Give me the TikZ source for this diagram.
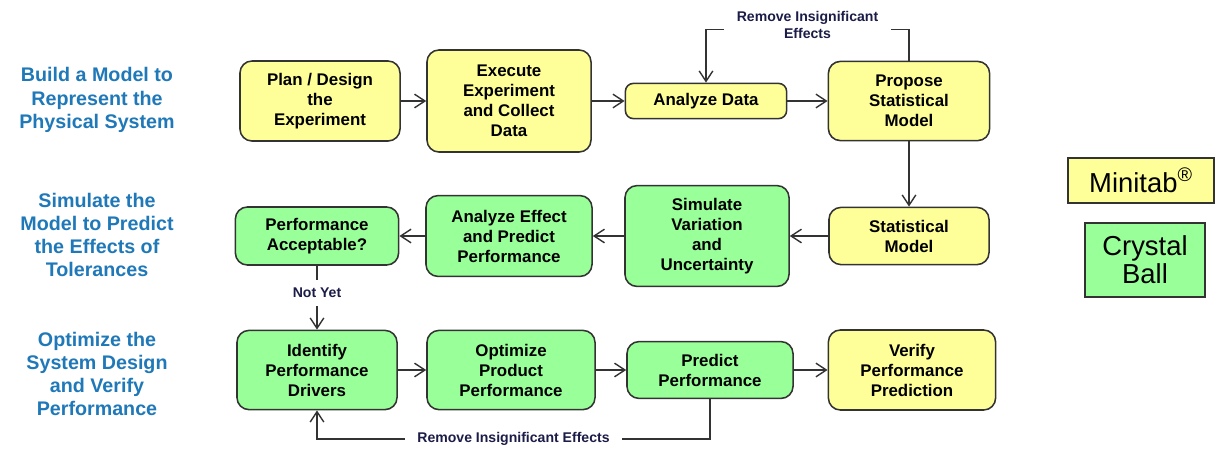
\documentclass[tikz,border=0pt]{standalone}
\usepackage{fontspec}
\setmainfont{Liberation Sans}
\usetikzlibrary{positioning,arrows.meta}
\definecolor{boxyellow}{HTML}{FFFF99}
\definecolor{boxgreen}{HTML}{99FF99}
\definecolor{phaseblue}{HTML}{1F78B8}
\definecolor{notenavy}{HTML}{1C1C48}
\definecolor{linegray}{HTML}{333333}

\begin{document}
\begin{tikzpicture}[
x=0.025cm,y=-0.025cm,
box/.style={
  draw=linegray,
  line width=1.1pt,
  rounded corners=3mm,
  align=center,
  inner sep=0pt,
  font=\fontsize{12}{14.2}\selectfont\bfseries
  },
ybox/.style={box, fill=boxyellow},
gbox/.style={box, fill=boxgreen},
phase/.style={
  align=center,
  text=phaseblue,
  font=\fontsize{14}{16.5}\selectfont\bfseries
  },
note/.style={
  align=center,
  fill=white,
  inner xsep=3.2mm,
  inner ysep=1mm,
  text=notenavy,
  font=\fontsize{10}{12}\selectfont\bfseries
  },
tool/.style={
  draw=linegray,
  line width=1.1pt,
  align=center,
  inner sep=0pt,
  font=\fontsize{19.5}{20}\selectfont
  },
flow/.style={draw=linegray, line width=1pt},
>={Straight Barb[length=2.6mm,width=3.4mm]}
]
\useasboundingbox (0,0) rectangle (1215,448);

\node[phase] (build) at (97,100) {Build a Model to\\Represent the\\Physical System};
\node[phase] (simulate) at (97,235) {Simulate the\\Model to Predict\\the Effects of\\Tolerances};
\node[phase] (optimize) at (97,374) {Optimize the\\System Design\\and Verify\\Performance};

\node[ybox, minimum width=4cm, minimum height=2cm] (plan) at (320,101) {Plan / Design\\the\\Experiment};
\node[ybox, minimum width=4.1cm, minimum height=2.55cm] (execute) at (509,101) {Execute\\Experiment\\and Collect\\Data};
\node[ybox, minimum width=4.03cm, minimum height=0.88cm, rounded corners=2mm] (anadata) at (706,101) {Analyze Data};
\node[ybox, minimum width=4.03cm, minimum height=1.98cm] (propose) at (909,101) {Propose\\Statistical\\Model};

\node[ybox, minimum width=4cm, minimum height=1.43cm] (statmod) at (909,236) {Statistical\\Model};
\node[gbox, minimum width=4.1cm, minimum height=2.52cm] (simvar) at (707,236) {Simulate\\Variation\\and\\Uncertainty};
\node[gbox, minimum width=4.15cm, minimum height=2.02cm] (anaeff) at (509,236) {Analyze Effect\\and Predict\\Performance};
\node[gbox, minimum width=4.08cm, minimum height=1.45cm] (perfacc) at (317,236) {Performance\\Acceptable?};

\node[gbox, minimum width=4cm, minimum height=1.98cm] (identify) at (317,370) {Identify\\Performance\\Drivers};
\node[gbox, minimum width=4.2cm, minimum height=1.98cm] (optim) at (511,370) {Optimize\\Product\\Performance};
\node[gbox, minimum width=4.15cm, minimum height=1.42cm] (predict) at (710,370) {Predict\\Performance};
\node[ybox, minimum width=4.18cm, minimum height=2cm] (verify) at (912,370) {Verify\\Performance\\Prediction};

\node[tool, fill=boxyellow, minimum width=3.65cm, minimum height=1.13cm] (minitab) at (1141,180.5) {Minitab\textsuperscript{\fontsize{14}{14}\selectfont\textregistered}};
\node[tool, fill=boxgreen, minimum width=3cm, minimum height=1.85cm] (crystal) at (1145,260) {Crystal\\Ball};

\draw[flow,->] (plan) -- (execute);
\draw[flow,->] (execute) -- (anadata);
\draw[flow,->] (anadata) -- (propose);
\draw[flow,->] (propose) -- (statmod);
\draw[flow,->] (statmod) -- (simvar);
\draw[flow,->] (simvar) -- (anaeff);
\draw[flow,->] (anaeff) -- (perfacc);
\draw[flow,->] (perfacc) -- node[note, pos=0.42, inner ysep=2mm] {Not Yet} (identify);
\draw[flow,->] (identify) -- (optim);
\draw[flow,->] (optim) -- (predict);
\draw[flow,->] (predict) -- (verify);
\draw[flow,->] (propose.north) -- ++(0,-31) -| node[note, pos=0.25, yshift=1.1mm] {Remove Insignificant\\Effects} (anadata.north);
\draw[flow,->] (predict.south) -- ++(0,40) -| node[note, pos=0.25] {Remove Insignificant Effects} (identify.south);
\end{tikzpicture}
\end{document}
